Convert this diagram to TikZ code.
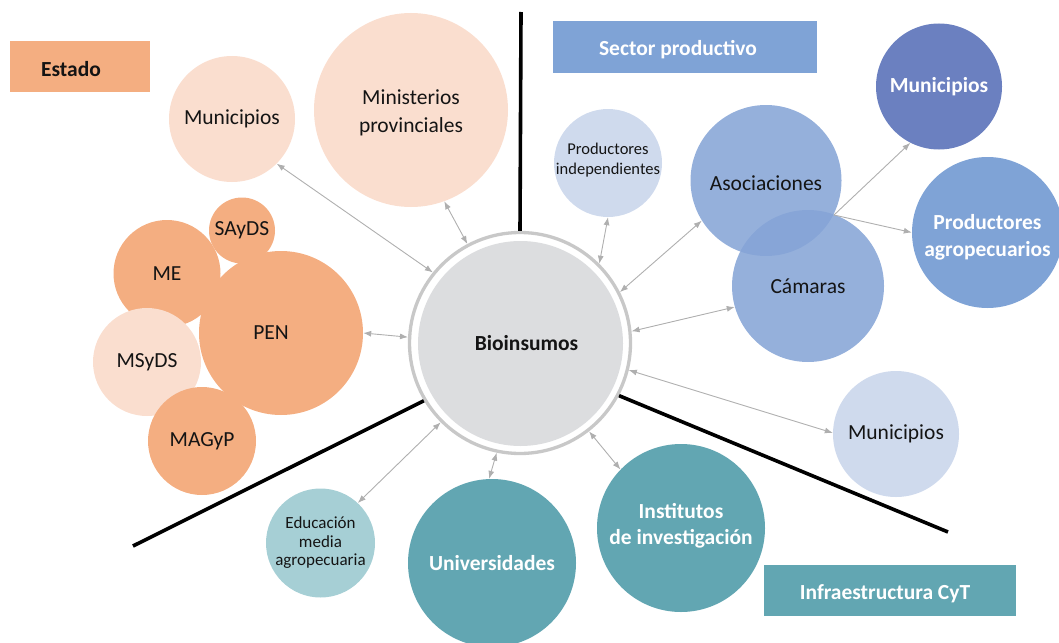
\documentclass[tikz,border=0pt]{standalone}
\usepackage{fontspec}
\setmainfont{Carlito}
\usetikzlibrary{arrows.meta}
\definecolor{peachD}{RGB}{244,174,129}
\definecolor{peachL}{RGB}{250,222,207}
\definecolor{bioG}{RGB}{220,221,223}
\definecolor{ringG}{RGB}{200,200,200}
\definecolor{blueBox}{RGB}{127,163,214}
\definecolor{blueDark}{RGB}{107,128,192}
\definecolor{blueMid}{RGB}{133,164,214}
\definecolor{blueLight}{RGB}{207,218,237}
\definecolor{tealD}{RGB}{98,166,178}
\definecolor{tealL}{RGB}{166,207,213}
\definecolor{arrG}{RGB}{175,175,175}
\definecolor{txt}{RGB}{20,20,20}
\begin{document}
\begin{tikzpicture}[x=1pt,y=-1pt,
  >={Latex[length=8pt,width=6pt]},
  bub/.style={circle, inner sep=0pt, minimum size=#1, align=center, text=txt,
              font=\fontsize{21.5}{28}\selectfont},
  wbub/.style={bub=#1, text=white, font=\bfseries\fontsize{21.5}{27}\selectfont},
  tagbox/.style={rectangle, inner sep=0pt},
  tagtext/.style={text=white, font=\bfseries\fontsize{21.5}{26}\selectfont, yshift=-3pt},
  sepline/.style={line width=3.6pt, black},
  arr/.style={draw=arrG, line width=0.9pt, <->},
  arrone/.style={draw=arrG, line width=0.9pt, ->},
]
\useasboundingbox (0,0) rectangle (1059,642);

% central node
\node[circle, minimum size=221, inner sep=0pt, draw=ringG, line width=3.3pt, fill=white] (bioring) at (520,343) {};
\node[bub=205, fill=bioG,
      label={[font=\bfseries\fontsize{21.5}{26}\selectfont, text=txt, xshift=6pt]center:Bioinsumos}] (bio) at (520.5,343.5) {};

% separators
\coordinate (topend) at (521,12);
\coordinate (llend) at (133,546);
\coordinate (lrend) at (948,532);
\draw[sepline] (bioring.90) -- (topend);
\draw[sepline] (bioring.211.8) -- (llend);
\draw[sepline] (bioring.-28.4) -- (lrend);

% Estado
\node[tagbox, minimum width=140, minimum height=51, fill=peachD,
      label={[tagtext, text=txt, xshift=-9pt]center:Estado}] (estado) at (80,66.5) {};
\node[bub=126, fill=peachL] (munE) at (232,119) {Municipios};
\node[bub=194, fill=peachL,
      label={[font=\fontsize{21.5}{28}\selectfont, text=txt, align=center, yshift=-3pt]center:Ministerios\\provinciales}] (min) at (411,110) {};
\node[bub=107, fill=peachD] (me) at (167,273.5) {ME};
\node[bub=66, fill=peachD] (sayds) at (242,230.5) {SAyDS};
\node[bub=108, fill=peachL] (msyds) at (147,362) {MSyDS};
\node[bub=164, fill=peachD,
      label={[font=\fontsize{21.5}{28}\selectfont, text=txt, xshift=-10pt]center:PEN}] (pen) at (281,333) {};
\node[bub=108, fill=peachD] (magyp) at (202,441) {MAGyP};

% Sector productivo
\node[tagbox, minimum width=264, minimum height=52, fill=blueBox,
      label={[tagtext, xshift=-7pt]center:Sector productivo}] (sector) at (685,47) {};
\node[bub=108, fill=blueLight,
      label={[font=\fontsize{16.5}{19.5}\selectfont, text=txt, align=center, yshift=3pt]center:Productores\\independientes}] (pi) at (608,163) {};
\node[bub=151, fill=blueMid, fill opacity=0.87,
      label={[font=\fontsize{21.5}{28}\selectfont, text=txt, yshift=-3pt]center:Asociaciones}] (aso) at (766,180.5) {};
\node[bub=152, fill=blueMid, fill opacity=0.87, text opacity=1] (cam) at (808,286) {Cámaras};
\node[wbub=126, fill=blueDark] (munD) at (939,86.5) {Municipios};
\node[wbub=151, fill=blueBox,
      label={[text=white, font=\bfseries\fontsize{21.5}{27}\selectfont, align=center, yshift=-5pt]center:Productores\\agropecuarios}] (pa) at (987.5,232.5) {};
\node[bub=126, fill=blueLight] (munR) at (896,434) {Municipios};

% Infraestructura CyT
\node[bub=109, fill=tealL, font=\fontsize{17}{18.5}\selectfont] (edu) at (320.5,543) {Educación\\media\\agropecuaria};
\node[wbub=168, fill=tealD] (uni) at (492,563) {Universidades};
\node[wbub=168, fill=tealD,
      label={[text=white, font=\bfseries\fontsize{21.5}{26}\selectfont, align=center, yshift=2pt]center:Institutos\\de investigación}] (inst) at (681,528) {};
\node[tagbox, minimum width=252, minimum height=51, fill=tealD,
      label={[tagtext, xshift=-5pt]center:Infraestructura CyT}] (infra) at (890,590.5) {};

% connectors
\draw[arr] (munE.-45) -- (bioring.141.5);
\draw[arr] (min.-70) -- (bioring.118);
\draw[arr] (pen.0) -- (bioring.177);
\draw[arr] (edu.47) -- (bioring.225.7);
\draw[arr] (uni.92.7) -- (bioring.258.5);
\draw[arr] (inst.136) -- (bioring.-52);
\draw[arr] (munR.179) -- (bioring.-14.2);
\draw[arr] (cam.196.2) -- (bioring.6.9);
\draw[arr] (aso.212.6) -- (bioring.27.7);
\draw[arr] (pi.-90) -- (bioring.45.1);
\coordinate (hub) at (834,215);
\draw[arrone] (hub) -- (munD.-117);
\draw[arrone] (hub) -- (pa.180);
\end{tikzpicture}
\end{document}
